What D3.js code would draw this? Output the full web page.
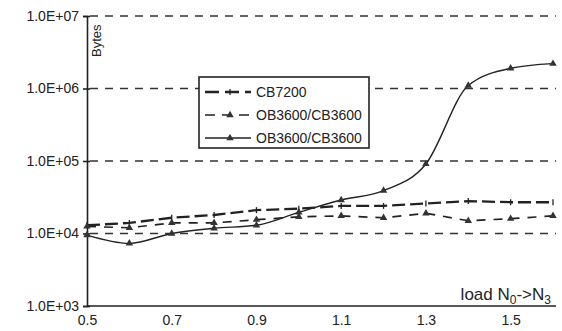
<!DOCTYPE html>
<html>
<head>
<meta charset="utf-8">
<script src="https://cdn.jsdelivr.net/npm/d3@7"></script>
<style>
  body { margin: 0; background: #fff; }
  text { font-family: "Liberation Sans", Arial, sans-serif; fill: #222; }
</style>
</head>
<body>
<div id="chart"></div>
<script>
// data
const loads = [0.5, 0.6, 0.7, 0.8, 0.9, 1.0, 1.1, 1.2, 1.3, 1.4, 1.5, 1.6]
const cb7200 = [1.3e4, 1.4e4, 1.65e4, 1.8e4, 2.1e4, 2.2e4, 2.4e4, 2.4e4, 2.6e4, 2.8e4, 2.7e4, 2.7e4]
const ob3600_dashed = [1.25e4, 1.2e4, 1.4e4, 1.4e4, 1.55e4, 1.7e4, 1.75e4, 1.65e4, 1.9e4, 1.5e4, 1.6e4, 1.75e4]
const ob3600_solid = [9.5e3, 7.3e3, 1.0e4, 1.18e4, 1.3e4, 1.96e4, 2.9e4, 3.9e4, 9.1e4, 1.1e6, 1.9e6, 2.2e6]
const yTicks = [1e3, 1e4, 1e5, 1e6, 1e7]
const yTickLabels = ["1.0E+03", "1.0E+04", "1.0E+05", "1.0E+06", "1.0E+07"]
const xTicks = [0.5, 0.7, 0.9, 1.1, 1.3, 1.5]
const seriesNames = ["CB7200", "OB3600/CB3600", "OB3600/CB3600"]

const W = 562, H = 331
const margin = { top: 16, right: 7, bottom: 25, left: 87 }

const svg = d3.select("#chart").append("svg")
    .attr("width", W)
    .attr("height", H)

const x = d3.scaleLinear().domain([0.5, 1.6]).range([margin.left, 553])
const y = d3.scaleLog().domain([1e3, 1e7]).range([H - margin.bottom, margin.top])

// dashed grid lines
svg.selectAll(".grid")
    .data(yTicks.slice(1))
    .join("line")
    .attr("x1", margin.left + 3).attr("x2", 556)
    .attr("y1", d => y(d)).attr("y2", d => y(d))
    .attr("stroke", "#333")
    .attr("stroke-width", 1.3)
    .attr("stroke-dasharray", "8,7")

// y axis
const yAxis = d3.axisLeft(y).tickValues(yTicks)
    .tickFormat((d, i) => yTickLabels[i]).tickSize(4).tickPadding(4)
const gy = svg.append("g").attr("transform", `translate(${margin.left},0)`).call(yAxis)
gy.select(".domain").attr("stroke", "#222").attr("stroke-width", 1.6)
gy.selectAll(".tick line").attr("x2", 3).attr("x1", -4).attr("stroke", "#222").attr("stroke-width", 1.6)
gy.selectAll("text").style("font-size", "14px")

// x axis
const xAxis = d3.axisBottom(x).tickValues(xTicks).tickFormat(d3.format(".1f")).tickSize(0).tickPadding(9)
const gx = svg.append("g").attr("transform", `translate(0,${H - margin.bottom})`).call(xAxis)
gx.select(".domain").attr("stroke", "#222").attr("stroke-width", 1.6).attr("d", `M${margin.left},0H556`)
gx.selectAll("text").style("font-size", "14px")

// axis titles
svg.append("text")
    .attr("transform", `translate(101,57) rotate(-90)`)
    .style("font-size", "13px")
    .text("Bytes")

const xt = svg.append("text")
    .attr("x", 551).attr("y", 300)
    .attr("text-anchor", "end")
    .style("font-size", "17px")
xt.append("tspan").text("load N")
xt.append("tspan").attr("dy", 4).style("font-size", "12px").text("0")
xt.append("tspan").attr("dy", -4).text("->N")
xt.append("tspan").attr("dy", 4).style("font-size", "12px").text("3")

// series
const series = [
    { name: seriesNames[0], values: cb7200, dash: "13,5", width: 2.3, marker: "plus", curve: d3.curveLinear },
    { name: seriesNames[1], values: ob3600_dashed, dash: "9,8", width: 1.7, marker: "tri", curve: d3.curveLinear },
    { name: seriesNames[2], values: ob3600_solid, dash: null, width: 1.4, marker: "tri", curve: d3.curveMonotoneX }
]

const tri = d3.symbol().type(d3.symbolTriangle).size(24)

series.forEach(s => {
    const line = d3.line().x((d, i) => x(loads[i])).y(d => y(d)).curve(s.curve)
    svg.append("path")
        .datum(s.values)
        .attr("d", line)
        .attr("fill", "none")
        .attr("stroke", "#222")
        .attr("stroke-width", s.width)
        .attr("stroke-dasharray", s.dash)

    const m = svg.append("g").selectAll("g")
        .data(s.values)
        .join("g")
        .attr("transform", (d, i) => `translate(${x(loads[i])},${y(d)})`)
    if (s.marker == "tri") {
        m.append("path").attr("d", tri).attr("fill", "#333")
    } else {
        m.append("line").attr("y1", -3).attr("y2", 3).attr("stroke", "#222").attr("stroke-width", 1.3)
    }
})

// legend
const lg = svg.append("g").attr("transform", "translate(199,77)")
lg.append("rect")
    .attr("width", 170).attr("height", 71)
    .attr("fill", "#fff").attr("stroke", "#222").attr("stroke-width", 1.6)

series.forEach((s, i) => {
    const row = lg.append("g").attr("transform", `translate(0,${15 + i * 23})`)
    row.append("line")
        .attr("x1", 6).attr("x2", 52)
        .attr("stroke", "#222").attr("stroke-width", s.width)
        .attr("stroke-dasharray", s.dash ? (i == 0 ? "14,6" : "10,7") : null)
    if (s.marker == "tri") {
        row.append("path").attr("d", tri).attr("transform", "translate(31,0)").attr("fill", "#333")
    } else {
        row.append("line").attr("x1", 31).attr("x2", 31).attr("y1", -3).attr("y2", 3)
            .attr("stroke", "#222").attr("stroke-width", 1.3)
    }
    row.append("text")
        .attr("x", 57).attr("y", 5)
        .style("font-size", "14px")
        .text(s.name)
})
</script>
</body>
</html>
